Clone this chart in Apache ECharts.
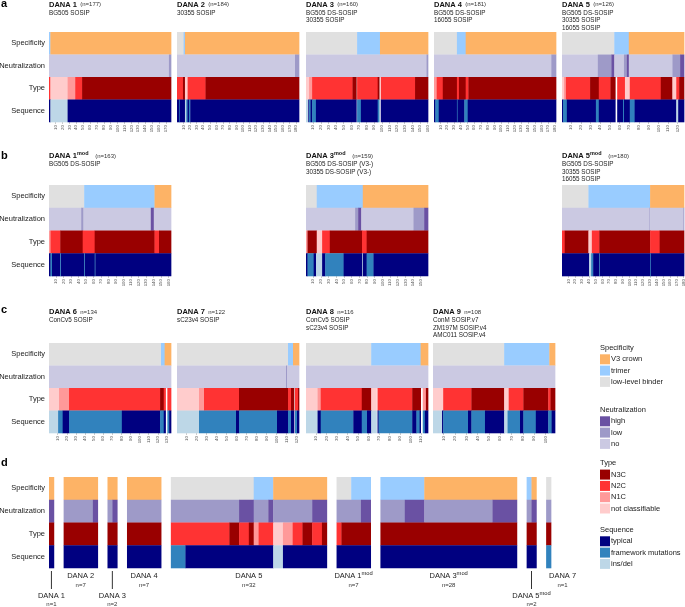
<!DOCTYPE html>
<html><head><meta charset="utf-8">
<script src="https://cdn.jsdelivr.net/npm/echarts@6/dist/echarts.min.js"></script>
<style>html,body{margin:0;padding:0;background:#fff}#c{width:685px;height:607px}</style>
</head><body><div id="c"></div><script>
// ---------------- DATA ----------------
const ROWS = ['Specificity', 'Neutralization', 'Type', 'Sequence'];
// codes: Spec V=V3 crown T=trimer L=low-level binder; Neut H=high W=low N=no;
// Type 3=N3C 2=N2C 1=N1C U=not classifiable; Seq t=typical f=framework i=ins/del; G=blank
// Panel a
const aNames = ['DANA 1', 'DANA 2', 'DANA 3', 'DANA 4', 'DANA 5'];
const aN = [177, 184, 160, 181, 126];
const aSubs = [['BG505 SOSIP'], ['30355 SOSIP'], ['BG505 DS-SOSIP', '30355 SOSIP'], ['BG505 DS-SOSIP', '16055 SOSIP'], ['BG505 DS-SOSIP', '30355 SOSIP', '16055 SOSIP']];
const aSpec = ['T:2 V:175', 'L:10 T:2 V:172', 'L:67 T:30 V:63', 'L:34 T:13 V:134', 'L:54 T:15 V:57'];
const aNeut = ['N:174 W:3', 'N:178 W:6', 'N:158 W:2', 'N:174 W:7', 'N:37 W:14 H:3 N:10 W:3 H:2 N:45 W:8 H:4'];
const aType = ['2:2 U:25 1:11 2:10 3:129', '2:9 3:3 U:4 2:27 3:141', 'U:4 1:4 2:53 3:5 G:1 2:27 3:2 G:2 2:45 3:17',
  '1:4 2:9 3:21 2:3 3:10 2:4 3:130', 'U:2 1:2 2:25 3:9 2:12 3:5 G:2 2:8 U:5 2:32 3:12 U:4 2:3 3:5'];
const aSeq = ['t:2 i:25 t:150', 't:3 f:1 t:8 i:2 f:2 t:2 f:2 t:164', 'i:3 t:1 f:2 t:2 f:5 t:53 G:1 f:5 t:22 f:2 G:2 t:62',
  't:2 f:5 t:27 f:1 t:10 f:5 t:131', 't:1 f:4 t:30 f:3 t:17 G:2 t:6 f:1 t:6 f:5 t:43 i:2 t:6'];
// Panel b
const bNames = ['DANA 1', 'DANA 3', 'DANA 5'];
const bSup = 'mod';
const bN = [163, 159, 180];
const bSubs = [['BG505 DS-SOSIP'], ['BG505 DS-SOSIP (V3-)', '30355 DS-SOSIP (V3-)'], ['BG505 DS-SOSIP', '30355 SOSIP', '16055 SOSIP']];
const bSpec = ['L:47 T:94 V:22', 'L:14 T:60 V:85', 'L:39 T:91 V:50'];
const bNeut = ['N:43 W:3 N:90 H:4 N:23', 'N:64 W:4 H:4 N:68 W:14 H:5', 'N:129 W:1 N:49 W:1'];
const bType = ['1:2 2:13 3:30 2:16 3:80 2:6 3:16', '1:2 3:12 U:7 2:10 3:42 2:6 3:80', '2:4 3:35 U:5 2:11 3:75 2:14 3:36'];
const bSeq = ['t:2 f:2 t:11 f:1 t:31 f:1 t:13 f:1 t:101', 't:2 f:8 t:3 i:8 t:4 f:24 t:24 i:1 t:5 f:9 t:71', 't:40 i:3 f:3 t:9 f:1 t:74 f:1 t:49'];
// Panel c
const cNames = ['DANA 6', 'DANA 7', 'DANA 8', 'DANA 9'];
const cN = [134, 122, 116, 108];
const cSubs = [['ConCv5 SOSIP'], ['sC23v4 SOSIP'], ['ConCv5 SOSIP', 'sC23v4 SOSIP'], ['ConM SOSIP.v7', 'ZM197M SOSIP.v4', 'AMC011 SOSIP.v4']];
const cSpec = ['L:123 T:4 V:7', 'L:111 T:5 V:6', 'L:62 T:47 V:7', 'L:63 T:40 V:5'];
const cNeut = ['N:134', 'N:109 W:1 N:12', 'N:116', 'N:108'];
const cType = ['U:11 1:11 2:100 3:4 2:2 G:2 2:4', 'U:22 1:5 2:35 3:49 2:3 3:3 G:1 2:3 3:1',
  'U:11 1:3 2:39 3:9 U:5 G:1 2:33 3:8 G:2 1:3 3:2', 'U:9 2:25 3:29 U:4 2:13 3:22 2:2 3:4'];
const cSeq = ['i:10 f:5 t:7 f:58 t:42 f:4 t:2 G:2 f:2 t:2', 'i:22 f:37 t:3 f:38 t:11 f:3 t:3 G:1 f:2 t:2',
  'i:11 t:3 f:31 t:8 f:5 t:4 i:5 G:1 t:1 f:32 t:4 f:3 t:1 G:2 f:2 t:3', 'i:8 t:1 f:22 t:3 f:12 t:17 i:3 f:11 t:3 f:11 t:11 f:3 t:3'];
// Panel d
const dNames = ['DANA 1', 'DANA 2', 'DANA 3', 'DANA 4', 'DANA 5', 'DANA 1', 'DANA 3', 'DANA 5', 'DANA 7'];
const dSups = ['', '', '', '', '', 'mod', 'mod', 'mod', ''];
const dN = [1, 7, 2, 7, 32, 7, 28, 2, 1];
const dSpec = ['V:1', 'V:7', 'V:2', 'V:7', 'L:17 T:4 V:11', 'L:3 T:4', 'T:9 V:19', 'T:1 V:1', 'L:1'];
const dNeut = ['H:1', 'W:6 H:1', 'W:1 H:1', 'W:7', 'W:14 H:3 W:3 H:1 W:8 H:3', 'W:5 H:2', 'W:5 H:4 W:14 H:5', 'W:1 H:1', 'W:1'];
const dType = ['3:1', '3:7', '3:2', '3:7', '2:12 3:2 2:2 3:1 1:1 2:3 U:2 1:2 2:2 3:2 2:2 3:1', '2:1 3:6', '3:28', '3:2', '3:1'];
const dSeq = ['t:1', 't:7', 't:2', 't:7', 'f:3 t:18 i:2 t:9', 't:7', 't:28', 't:2', 'f:1'];
// Legend
const legTitles = ['Specificity', 'Neutralization', 'Type', 'Sequence'];
const legCodes = [['V', 'T', 'L'], ['H', 'W', 'N'], ['3', '2', '1', 'U'], ['t', 'f', 'i']];
const legLabels = [['V3 crown', 'trimer', 'low-level binder'], ['high', 'low', 'no'], ['N3C', 'N2C', 'N1C', 'not classifiable'], ['typical', 'framework mutations', 'ins/del']];

// ---------------- STYLE ----------------
const COLORS = {
  V: '#FDB366', T: '#99CCFF', L: '#E0E0E0',
  H: '#6A51A3', W: '#9E9AC8', N: '#CBC9E2',
  '3': '#990000', '2': '#FF3333', '1': '#FF9999', U: '#FFCCCC',
  t: '#000080', f: '#3182BD', i: '#BDD7E7'
};
const CODES = Object.keys(COLORS);
const FONT = '"Liberation Sans", Arial, Helvetica, sans-serif';

const grid = [], xAxis = [], yAxis = [], series = [], graphic = [];

function parseRow(str, offset, rowIdx, out) {
  let pos = offset;
  str.trim().split(/\s+/).forEach(tok => {
    const parts = tok.split(':');
    const cnt = +parts[1];
    if (parts[0] !== 'G') out.push([pos, pos + cnt - 1, rowIdx, CODES.indexOf(parts[0])]);
    pos += cnt;
  });
  return pos;
}

function renderItem(params, api) {
  const s = api.value(0), e = api.value(1), r = api.value(2), ci = api.value(3);
  const a = api.coord([s, r]), b = api.coord([e, r]);
  const bw = api.size([1, 0])[0], bh = api.size([0, 1])[1];
  return {
    type: 'rect',
    shape: { x: a[0] - bw / 2, y: a[1] - bh / 2, width: b[0] - a[0] + bw + 0.35, height: bh + 0.3 },
    style: { fill: COLORS[CODES[ci]] }
  };
}

const tickInt = (i) => (i + 1) % 10 === 0;

function addGrid(box, nCats, segs, ticks, yLabels) {
  const gi = grid.length;
  grid.push({ left: box[0], top: box[1], width: box[2], height: box[3], containLabel: false, outerBoundsMode: 'none' });
  xAxis.push({
    type: 'category', gridIndex: gi, boundaryGap: true,
    data: Array.from({ length: nCats }, (_, i) => String(i + 1)),
    axisLine: { show: false }, splitLine: { show: false },
    axisTick: ticks ? { show: true, interval: tickInt, alignWithLabel: true, length: 2, lineStyle: { color: '#aaa', width: 0.6 } } : { show: false },
    axisLabel: ticks ? { show: true, interval: tickInt, rotate: 90, fontSize: 4.4, color: '#555', margin: 3, fontFamily: FONT } : { show: false }
  });
  yAxis.push({
    type: 'category', gridIndex: gi, data: ROWS, inverse: true,
    axisLine: { show: false }, axisTick: { show: false }, splitLine: { show: false },
    axisLabel: { show: yLabels, fontSize: 7.5, color: '#222', margin: 4, fontFamily: FONT }
  });
  series.push({ type: 'custom', xAxisIndex: gi, yAxisIndex: gi, data: segs, encode: { x: [0, 1], y: 2 }, renderItem: renderItem, silent: true, animation: false });
  return gi;
}

function buildPanelRow(lefts, top, h, ns, spec, neut, type, seq) {
  lefts.forEach((lx, k) => {
    const segs = [];
    [spec, neut, type, seq].forEach((arr, r) => parseRow(arr[k], 0, r, segs));
    addGrid([lx, top, 122, h], ns[k], segs, true, k === 0);
  });
}

function titleText(x, y, name, sup, nText, subs, subY) {
  const parts = '{b|' + name + '}' + (sup ? '{s|' + sup + '}' : '') + (sup ? '  ' : ' ') + '{n|' + nText + '}';
  graphic.push({
    type: 'text', x: x, y: y, silent: true,
    style: {
      text: parts, verticalAlign: 'middle', align: 'left',
      rich: {
        b: { fontSize: 7.5, fontWeight: 'bold', fontFamily: FONT, fill: '#111', verticalAlign: 'middle', lineHeight: 8 },
        s: { fontSize: 5.5, fontWeight: 'bold', fontFamily: FONT, fill: '#111', verticalAlign: 'top', lineHeight: 11 },
        n: { fontSize: 6, fontFamily: FONT, fill: '#333', verticalAlign: 'middle', lineHeight: 8 }
      }
    }
  });
  subs.forEach((s, j) => {
    graphic.push({ type: 'text', x: x, y: subY + j * 7.6, silent: true,
      style: { text: s, fontSize: 6.3, fontFamily: FONT, fill: '#222', verticalAlign: 'middle', align: 'left' } });
  });
}

function letter(t, y) {
  graphic.push({ type: 'text', x: 1, y: y, silent: true,
    style: { text: t, fontSize: 11, fontWeight: 'bold', fontFamily: FONT, fill: '#000', verticalAlign: 'middle' } });
}

// Panel a
const aLefts = [49, 177, 306, 434, 562];
buildPanelRow(aLefts, 32, 90, aN, aSpec, aNeut, aType, aSeq);
aLefts.forEach((lx, k) => titleText(lx, 4.5, aNames[k], '', '(n=' + aN[k] + ')', aSubs[k], 13));
letter('a', 4);
// Panel b
const bLefts = [49, 306, 562];
buildPanelRow(bLefts, 185, 91, bN, bSpec, bNeut, bType, bSeq);
bLefts.forEach((lx, k) => titleText(lx, 156, bNames[k], bSup, '(n=' + bN[k] + ')', bSubs[k], 164.3));
letter('b', 156);
// Panel c
const cLefts = [49, 177, 306, 433];
buildPanelRow(cLefts, 343, 90, cN, cSpec, cNeut, cType, cSeq);
cLefts.forEach((lx, k) => titleText(lx, 312, cNames[k], '', 'n=' + cN[k], cSubs[k], 320.5));
letter('c', 310);
// Panel d
const GAP = 2;
const dSegs = [];
const dOffsets = [];
let off = 0;
dN.forEach((n, k) => {
  dOffsets.push(off);
  [dSpec, dNeut, dType, dSeq].forEach((arr, r) => parseRow(arr[k], off, r, dSegs));
  off += n + GAP;
});
const dTotal = off - GAP;
const dGrid = addGrid([49, 477, 502, 91], dTotal, dSegs, false, true);
letter('d', 463);

// Legend
const legTitleY = [348, 410, 463.3, 530];
legTitles.forEach((t, g) => {
  graphic.push({ type: 'text', x: 600, y: legTitleY[g], silent: true,
    style: { text: t, fontSize: 7.5, fontFamily: FONT, fill: '#222', verticalAlign: 'middle' } });
  legCodes[g].forEach((c, j) => {
    const cy = legTitleY[g] + 11.3 * (j + 1);
    graphic.push({ type: 'rect', silent: true, shape: { x: 600, y: cy - 5, width: 10, height: 10 }, style: { fill: COLORS[c] } });
    graphic.push({ type: 'text', x: 611, y: cy, silent: true,
      style: { text: legLabels[g][j], fontSize: 7.5, fontFamily: FONT, fill: '#222', verticalAlign: 'middle' } });
  });
});

const chart = echarts.init(document.getElementById('c'), null, { renderer: 'canvas' });
chart.setOption({ animation: false, grid: grid, xAxis: xAxis, yAxis: yAxis, series: series, graphic: graphic });

// Panel d labels positioned through the axis scale
const dLow = [true, false, true, false, false, false, false, true, false];
const extra = [];
dN.forEach((n, k) => {
  const x0 = chart.convertToPixel({ xAxisIndex: dGrid }, dOffsets[k]);
  const x1 = chart.convertToPixel({ xAxisIndex: dGrid }, dOffsets[k] + n - 1);
  let cx = (x0 + x1) / 2;
  let ty = 576, ny = 585.5;
  if (dLow[k]) {
    ty = 596; ny = 604.5;
    extra.push({ type: 'line', silent: true, shape: { x1: cx, y1: 571, x2: cx, y2: 589 }, style: { stroke: '#333', lineWidth: 1 } });
  }
  if (k === dN.length - 1) cx = x0 + 14;
  const txt = '{a|' + dNames[k] + '}' + (dSups[k] ? '{s|' + dSups[k] + '}' : '');
  extra.push({ type: 'text', x: cx, y: ty, silent: true,
    style: { text: txt, align: 'center', verticalAlign: 'middle',
      rich: {
        a: { fontSize: 7.5, fontFamily: FONT, fill: '#222', verticalAlign: 'middle', lineHeight: 8 },
        s: { fontSize: 5.8, fontFamily: FONT, fill: '#222', verticalAlign: 'top', lineHeight: 11 }
      } } });
  extra.push({ type: 'text', x: cx, y: ny, silent: true,
    style: { text: 'n=' + n, align: 'center', verticalAlign: 'middle', fontSize: 6, fontFamily: FONT, fill: '#333' } });
});
chart.setOption({ graphic: graphic.concat(extra) });
</script></body></html>
